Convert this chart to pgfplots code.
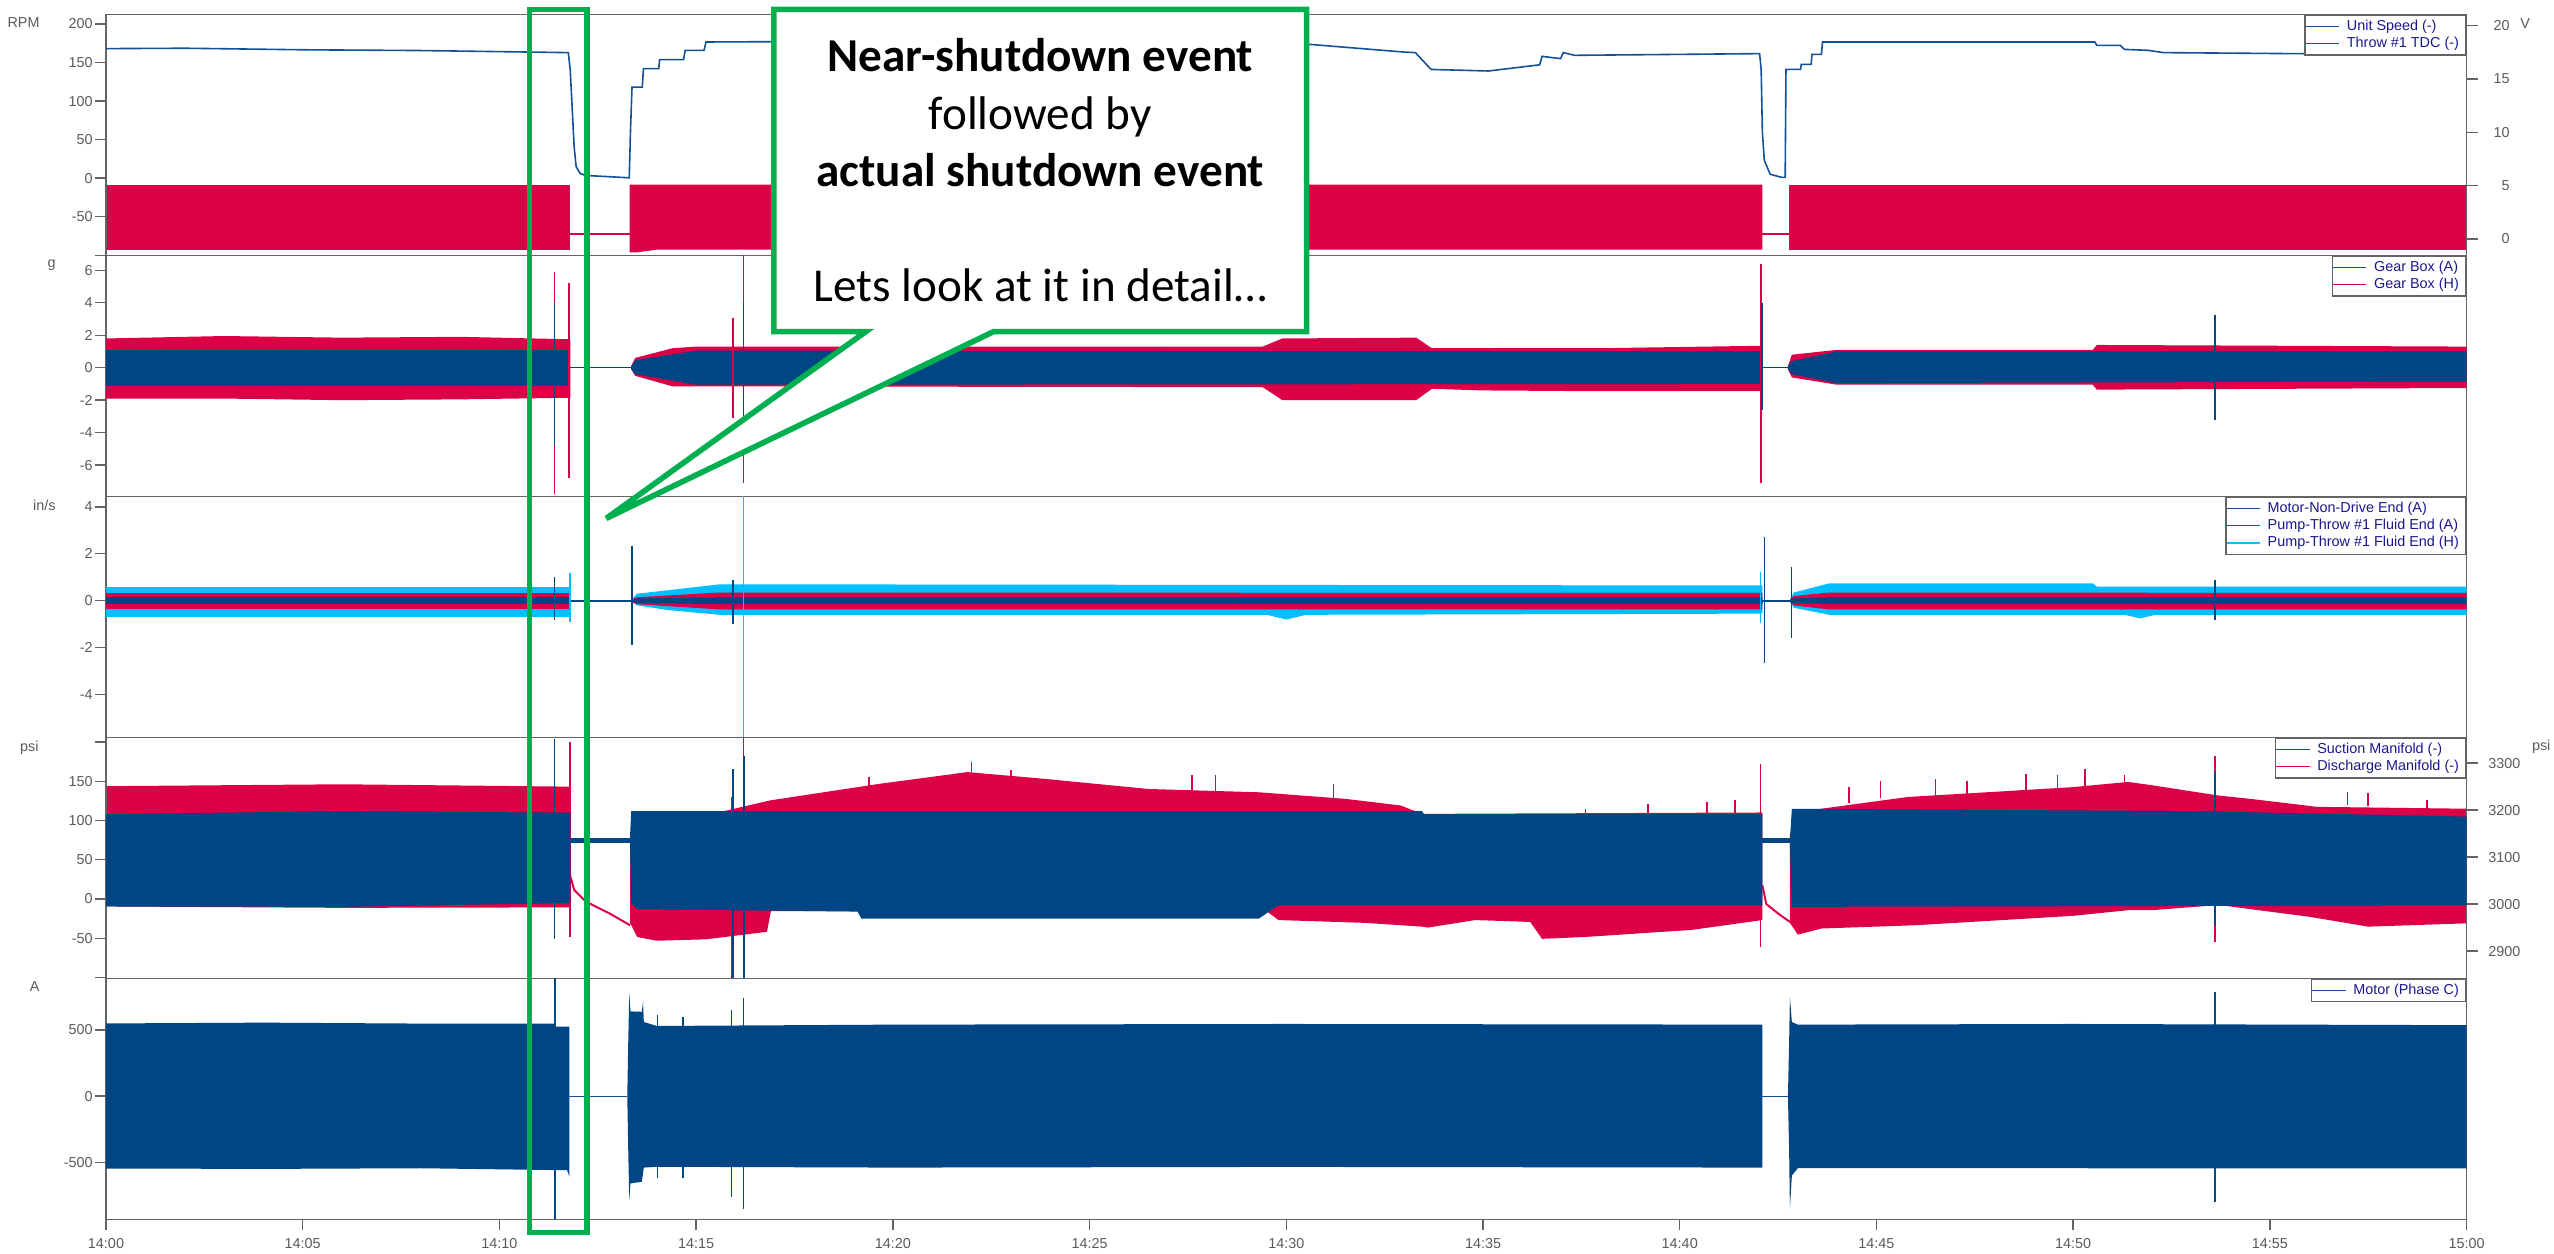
\documentclass[border=0pt]{standalone}
\usepackage{fontspec}
\setmainfont{Liberation Sans}
\newfontfamily\calibri{Carlito}
\usepackage{pgfplots}
\pgfplotsset{compat=1.18}

\definecolor{sigblue}{RGB}{0,69,132}
\definecolor{sigred}{RGB}{220,0,70}
\definecolor{sigcyan}{RGB}{0,191,255}
\definecolor{speedblue}{RGB}{20,80,150}
\definecolor{axgray}{RGB}{100,100,100}
\definecolor{txtgray}{RGB}{90,90,90}
\definecolor{legtxt}{RGB}{25,25,140}
\definecolor{calloutgreen}{RGB}{0,176,80}

\newcommand{\tfont}{\fontsize{7.2}{8.6}\selectfont}
\newcommand{\cfont}{\calibri\fontsize{23.6}{28.7}\selectfont}

\pgfplotsset{
  panel/.style={scale only axis, width=1180.3pt, height=120.5pt, xmin=0, xmax=60,
    axis line style={axgray, line width=0.7pt},
    every tick/.style={axgray, line width=0.7pt},
    major tick length=5.5pt, tick align=outside,
    xtick=\empty, ytick pos=left,
    ticklabel style={font=\tfont, text=txtgray},
    yticklabel style={anchor=east, inner sep=0pt},
    yticklabel shift=1pt,
    unbounded coords=jump,
    legend style={at={(1,1)}, anchor=north east, draw=axgray, line width=0.7pt, fill=white,
      inner xsep=0pt, inner ysep=1.3pt, row sep=0pt,
      nodes={font=\tfont, text=legtxt, inner xsep=3.5pt, inner ysep=1pt}},
    legend cell align=left,
    legend image code/.code={\draw[##1, line width=0.7pt] (0pt,0pt) -- (16.7pt,0pt);},
  },
  rpanel/.style={panel, axis x line=none, axis y line*=right, ytick pos=right,
    yticklabel style={anchor=west, inner sep=0pt, align=right}},
  band/.style={fill=#1, draw=none, forget plot},
  spike/.style={#1, line width=0.8pt, forget plot},
}

\begin{document}
\begin{tikzpicture}
\path[use as bounding box] (0,0) rectangle (1277pt,-626.5pt);

% ---------------- Panel 1: RPM / V ----------------
\begin{axis}[rpanel, at={(53pt,-7.15pt)}, anchor=north west,
  ymin=-1.53, ymax=21.06, ytick={0,5,10,15,20}, yticklabels={0,5,10,15,20},
  yticklabel style={text width=8.2pt}, yticklabel shift=7.6pt]
\addplot[band=sigred] coordinates {(0,5.1) (11.8,5.1) (11.8,-1.0) (0,-1.0)};
\addplot[band=sigred] coordinates {(13.31,5.1) (42.1,5.1) (42.1,-1.0) (14,-1.0) (13.5,-1.25) (13.31,-1.25)};
\addplot[band=sigred] coordinates {(42.77,5.1) (60,5.1) (60,-1.0) (42.77,-1.0)};
\addplot[sigred, line width=1pt, forget plot] coordinates {(11.8,0.5) (13.31,0.5) (13.31,nan) (42.1,0.5) (42.77,0.5)};
\end{axis}
\begin{axis}[panel, at={(53pt,-7.15pt)}, anchor=north west,
  ymin=-100, ymax=212.5, ytick={-100,-50,0,50,100,150,200}, yticklabels={,-50,0,50,100,150,200}]
\addlegendimage{speedblue}\addlegendentry{Unit Speed (-)}
\addlegendimage{sigred}\addlegendentry{Throw \#1 TDC (-)}
\addplot[speedblue, line width=0.8pt, forget plot] coordinates {
(0,168) (2,168.5) (5,166.5) (8,165.5) (10.7,163.6) (11.75,162.8) (11.8,140) (11.85,90) (11.9,40) (11.95,15)
(12.05,6) (12.2,3.5) (13.3,0.5) (13.33,60) (13.37,118) (13.63,118) (13.66,142) (14.05,142) (14.07,153.7)
(14.68,153.7) (14.72,165.8) (15.2,165.8) (15.25,176.6) (17,177) (22,178) (29.5,176) (30.36,174.5) (33,163.5)
(33.28,162.8) (33.68,141) (35.14,139) (36.44,147) (36.5,158) (36.97,155) (37.04,162.8) (37.33,159.3)
(42.03,161.5) (42.07,140) (42.1,60) (42.15,23) (42.3,5) (42.6,1) (42.68,1) (42.7,141) (43.07,141) (43.09,147.6)
(43.34,147.6) (43.36,160.6) (43.6,160.6) (43.63,176.6) (50.55,176.6) (50.6,172.3) (51.2,172.3) (51.3,167)
(51.9,165.8) (52.3,162.8) (55.6,161.5) (60,160)};
\end{axis}

% ---------------- Panel 2: g ----------------
\begin{axis}[panel, at={(53pt,-127.65pt)}, anchor=north west,
  ymin=-7.92, ymax=6.92, ytick={-6,-4,-2,0,2,4,6}, yticklabels={-6,-4,-2,0,2,4,6}]
\addlegendimage{speedblue}\addlegendentry{Gear Box (A)}
\addlegendimage{sigred}\addlegendentry{Gear Box (H)}
\addplot[band=sigred] coordinates {(0,1.8) (3,1.95) (6,1.85) (9,1.9) (11.8,1.75) (11.8,-1.85) (9,-1.95) (6,-2.0) (3,-1.9) (0,-1.9)};
\addplot[band=sigred] coordinates {(13.35,0.1) (13.45,0.6) (14.4,1.2) (15,1.3) (29.4,1.3) (29.9,1.8) (33.3,1.85) (33.7,1.2) (38,1.2) (42.07,1.35)
 (42.07,-1.45) (38,-1.45) (35,-1.4) (33.7,-1.3) (33.3,-2.0) (29.9,-2.0) (29.4,-1.2) (15,-1.15) (14.4,-1.15) (13.45,-0.5) (13.35,-0.1)};
\addplot[band=sigred] coordinates {(42.75,0.1) (42.85,0.8) (44,1.1) (50.5,1.1) (50.6,1.4) (60,1.3) (60,-1.25) (50.6,-1.35) (50.5,-1.05) (44,-1.05) (42.85,-0.6) (42.75,-0.1)};
\addplot[band=sigblue] coordinates {(0,1.1) (11.8,1.1) (11.8,-1.15) (0,-1.15)};
\addplot[band=sigblue] coordinates {(13.35,0.1) (13.45,0.45) (15,1.05) (42.07,1.0) (42.07,-1.0) (15,-1.05) (13.45,-0.4) (13.35,-0.1)};
\addplot[band=sigblue] coordinates {(42.75,0.1) (42.85,0.4) (44,1.0) (60,1.0) (60,-0.85) (44,-0.95) (42.85,-0.4) (42.75,-0.1)};
\addplot[sigblue, line width=0.8pt, forget plot] coordinates {(11.8,0) (13.35,0) (13.35,nan) (42.07,0) (42.75,0)};
\addplot[spike=sigred] coordinates {(11.4,5.9) (11.4,-7.8) (11.4,nan) (11.77,5.2) (11.77,-6.8) (11.77,nan) (15.93,3.05) (15.93,-3.1) (15.93,nan)
 (16.2,6.92) (16.2,-7.1) (16.2,nan) (42.07,6.4) (42.07,-7.1)};
\addplot[spike=sigblue] coordinates {(11.4,4.07) (11.4,-4.8) (11.4,nan) (16.2,4.0) (16.2,-3.0) (16.2,nan) (42.09,4.0) (42.09,-2.6) (42.09,nan) (53.6,3.25) (53.6,-3.2)};
\end{axis}

% ---------------- Panel 3: in/s ----------------
\begin{axis}[panel, at={(53pt,-248.15pt)}, anchor=north west,
  ymin=-5.82, ymax=4.45, ytick={-4,-2,0,2,4}, yticklabels={-4,-2,0,2,4}]
\addlegendimage{speedblue}\addlegendentry{Motor-Non-Drive End (A)}
\addlegendimage{sigred}\addlegendentry{Pump-Throw \#1 Fluid End (A)}
\addlegendimage{sigcyan}\addlegendentry{Pump-Throw \#1 Fluid End (H)}
\addplot[band=sigcyan] coordinates {(0,0.6) (11.8,0.6) (11.8,-0.7) (0,-0.7)};
\addplot[band=sigcyan] coordinates {(13.35,0.05) (13.5,0.3) (14.3,0.45) (15.6,0.7) (42.1,0.65) (42.1,-0.55) (30.5,-0.6) (30,-0.8) (29.5,-0.6) (15.6,-0.6) (14.3,-0.4) (13.5,-0.2) (13.35,-0.05)};
\addplot[band=sigcyan] coordinates {(42.8,0.05) (42.9,0.35) (43.8,0.74) (50.5,0.74) (50.6,0.6) (60,0.6) (60,-0.6) (52.1,-0.6) (51.7,-0.75) (51.3,-0.6) (43.8,-0.6) (42.9,-0.3) (42.8,-0.05)};
\addplot[band=sigred] coordinates {(0,0.32) (11.8,0.32) (11.8,-0.36) (0,-0.36)};
\addplot[band=sigred] coordinates {(13.35,0.03) (13.5,0.15) (15.6,0.35) (42.1,0.33) (42.1,-0.37) (15.6,-0.37) (13.5,-0.15) (13.35,-0.03)};
\addplot[band=sigred] coordinates {(42.8,0.03) (42.9,0.2) (43.8,0.35) (60,0.33) (60,-0.37) (43.8,-0.37) (42.9,-0.2) (42.8,-0.03)};
\addplot[band=sigblue] coordinates {(0,0.14) (11.8,0.14) (11.8,-0.14) (0,-0.14)};
\addplot[band=sigblue] coordinates {(13.35,0.02) (13.5,0.1) (15.6,0.14) (42.1,0.14) (42.1,-0.14) (15.6,-0.14) (13.5,-0.1) (13.35,-0.02)};
\addplot[band=sigblue] coordinates {(42.8,0.02) (42.9,0.1) (43.8,0.14) (60,0.14) (60,-0.14) (43.8,-0.14) (42.9,-0.1) (42.8,-0.02)};
\addplot[sigblue, line width=0.8pt, forget plot] coordinates {(11.8,0) (13.35,0) (13.35,nan) (42.1,0) (42.8,0)};
\addplot[spike=sigcyan] coordinates {(16.2,4.45) (16.2,-5.82) (16.2,nan) (42.05,1.24) (42.05,-0.97) (42.05,nan) (11.8,1.2) (11.8,-0.9)};
\addplot[spike=sigblue] coordinates {(11.4,1.0) (11.4,-0.8) (11.4,nan) (13.37,2.35) (13.37,-1.9) (13.37,nan) (15.93,0.9) (15.93,-1.0) (15.93,nan)
 (42.15,2.73) (42.15,-2.67) (42.15,nan) (42.84,1.45) (42.84,-1.6) (42.84,nan) (53.6,0.9) (53.6,-0.8)};
\end{axis}

% ---------------- Panel 4: psi / psi ----------------
\begin{axis}[rpanel, at={(53pt,-368.65pt)}, anchor=north west,
  ymin=2842, ymax=3355, ytick={2900,3000,3100,3200,3300}, yticklabels={2900,3000,3100,3200,3300},
  yticklabel style={text width=16.2pt}, yticklabel shift=5pt]
\addplot[band=sigred] coordinates {(0,3251) (6,3255) (11.8,3250) (11.8,2993) (6,2992) (0,2995)};
\addplot[band=sigred] coordinates {(13.32,3150) (13.5,3180) (15.25,3189) (16.9,3221) (19.66,3256) (21.9,3281) (23.8,3267) (26.5,3245) (29.3,3238)
 (31.5,3224) (32.9,3210) (33.45,3192) (42.1,3195)
 (42.1,2966) (40.3,2945) (37.6,2930) (36.5,2926) (36.2,2962) (34.8,2966) (33.6,2950) (33.45,2952) (32,2960) (29.8,2966) (29.5,2985)
 (16.9,2985) (16.8,2941) (15.25,2925) (14,2922) (13.5,2930) (13.32,2960)};
\addplot[band=sigred] coordinates {(42.8,3150) (43.2,3195) (43.6,3203) (45.8,3228) (50,3249) (51.4,3260) (52,3253) (53.7,3231) (54.5,3224) (56.2,3207) (60,3203)
 (60,2959) (57.5,2952) (56,2973) (53.7,2998) (52,2987) (51.4,2987) (50,2975) (46,2955) (43.6,2948) (43,2935) (42.8,2960)};
\addplot[sigred, line width=1pt, forget plot] coordinates {(11.8,3060) (11.9,3030) (12.2,3005) (12.8,2980) (13.32,2955) (13.32,nan) (42.1,3040) (42.2,3000) (42.5,2980) (42.8,2962)};
\addplot[spike=sigred] coordinates {(11.8,3344.6) (11.8,2930) (11.8,nan) (15.9,3228) (15.9,2842) (15.9,nan) (16.2,3355) (16.2,2842) (16.2,nan)
 (42.05,3298.6) (42.05,2909) (42.05,nan) (53.6,3316) (53.6,2920) (53.6,nan)
 (19.4,3250) (19.4,3270) (19.4,nan) (22,3275) (22,3302) (22,nan) (23,3265) (23,3285) (23,nan) (27.6,3240) (27.6,3274) (27.6,nan)
 (28.2,3238) (28.2,3274) (28.2,nan) (31.2,3224) (31.2,3256) (31.2,nan) (37.6,3190) (37.6,3203) (37.6,nan) (39.2,3190) (39.2,3212) (39.2,nan)
 (40.7,3190) (40.7,3217) (40.7,nan) (41.4,3190) (41.4,3221) (41.4,nan) (44.3,3215) (44.3,3249) (44.3,nan) (45.1,3225) (45.1,3263) (45.1,nan)
 (46.5,3230) (46.5,3267) (46.5,nan) (47.3,3235) (47.3,3263) (47.3,nan) (48.8,3240) (48.8,3277) (48.8,nan) (49.6,3245) (49.6,3274) (49.6,nan)
 (50.3,3248) (50.3,3288) (50.3,nan) (51.3,3255) (51.3,3275) (51.3,nan) (56.97,3210) (56.97,3238) (56.97,nan) (57.5,3208) (57.5,3236) (57.5,nan)
 (59,3204) (59,3222)};
\end{axis}
\begin{axis}[panel, at={(53pt,-368.65pt)}, anchor=north west,
  ymin=-101, ymax=206, ytick={-100,-50,0,50,100,150,200}, yticklabels={,-50,0,50,100,150,}]
\addlegendimage{speedblue}\addlegendentry{Suction Manifold (-)}
\addlegendimage{sigred}\addlegendentry{Discharge Manifold (-)}
\addplot[band=sigblue] coordinates {(0,108) (6,112) (11.8,110) (11.8,-5) (6,-10) (0,-9.5)};
\addplot[band=sigblue] coordinates {(13.32,80) (13.35,112) (19.1,112) (33.45,112) (33.5,108) (42.1,108) (42.1,-8) (29.8,-8) (29.3,-25) (19.2,-25) (19.1,-16) (13.5,-13) (13.35,-5) (13.32,70)};
\addplot[band=sigblue] coordinates {(42.8,75) (42.85,115) (53,112) (60,105) (60,-8) (42.85,-10) (42.8,70)};
\addplot[sigblue, line width=2.7pt, forget plot] coordinates {(11.8,74.5) (13.32,74.5) (13.32,nan) (42.1,74.5) (42.8,74.5)};
\addplot[spike=sigblue] coordinates {(11.4,203.6) (11.4,-50.4) (11.4,nan) (15.94,165.5) (15.94,-101) (15.94,nan) (16.22,182.5) (16.22,-101) (16.22,nan) (53.6,161.3) (53.6,-33.4)};
\end{axis}

% ---------------- Panel 5: A ----------------
\begin{axis}[panel, at={(53pt,-489.15pt)}, anchor=north west,
  ymin=-931, ymax=890, ytick={-500,0,500}, yticklabels={-500,0,500},
  xtick={0,5,...,60}, xticklabels={14:00,14:05,14:10,14:15,14:20,14:25,14:30,14:35,14:40,14:45,14:50,14:55,15:00},
  xtick pos=bottom, xticklabel style={anchor=north, inner sep=0pt}, xticklabel shift=4pt]
\addlegendimage{speedblue}\addlegendentry{Motor (Phase C)}
\addplot[band=sigblue] coordinates {(0,549) (4,555) (8,548) (11.4,548) (11.42,525) (11.78,525) (11.78,-610) (11.72,-560) (8,-545) (4,-550) (0,-547)};
\addplot[band=sigblue] coordinates {(13.25,0) (13.27,350) (13.3,776) (13.33,640) (13.62,637) (13.65,713) (13.67,560) (14,530) (20,540) (30,545) (42.1,540)
 (42.1,-540) (30,-535) (20,-540) (14,-534) (13.67,-540) (13.62,-647) (13.33,-660) (13.3,-786) (13.27,-350) (13.25,0)};
\addplot[band=sigblue] coordinates {(42.75,0) (42.78,400) (42.8,750) (42.85,560) (43,540) (50,545) (60,536) (60,-546) (50,-545) (43,-545) (42.85,-600) (42.8,-850) (42.78,-400) (42.75,0)};
\addplot[speedblue, line width=0.6pt, forget plot] coordinates {(11.78,0) (13.25,0) (13.25,nan) (42.1,0) (42.75,0)};
\addplot[spike=sigblue] coordinates {(11.41,890) (11.41,-931) (11.41,nan) (14.02,612) (14.02,-622) (14.02,nan) (14.67,600) (14.67,-622) (14.67,nan)
 (15.9,650) (15.9,-765) (15.9,nan) (16.2,745) (16.2,-852) (16.2,nan) (53.6,788) (53.6,-798)};
\end{axis}

% unit labels
\begin{scope}[every node/.style={font=\tfont, text=txtgray, inner sep=0pt}]
\node[anchor=east] at (20pt,-11.5pt) {RPM};
\node[anchor=east] at (28pt,-132.75pt) {g};
\node[anchor=east] at (28pt,-252.5pt) {in/s};
\node[anchor=east] at (19.5pt,-373.75pt) {psi};
\node[anchor=east] at (20pt,-493.3pt) {A};
\node[anchor=west] at (1260pt,-11.7pt) {V};
\node[anchor=west] at (1265.8pt,-373.3pt) {psi};
\end{scope}

% highlight box
\draw[calloutgreen, line width=2.8pt] (264.8pt,-4.67pt) rectangle (293.5pt,-616.3pt);

% callout
\draw[calloutgreen, line width=2.8pt, fill=white, line join=miter]
 (386.9pt,-4.67pt) -- (653.3pt,-4.67pt) -- (653.3pt,-165.8pt) -- (496.8pt,-165.8pt) -- (303.1pt,-259.2pt)
 -- (432.9pt,-165.8pt) -- (386.9pt,-165.8pt) -- cycle;
\node[anchor=base, font=\cfont\bfseries] at (520.1pt,-35.9pt) {Near-shutdown event};
\node[anchor=base, font=\cfont] at (520.1pt,-64.6pt) {followed by};
\node[anchor=base, font=\cfont\bfseries] at (520.1pt,-93.3pt) {actual shutdown event};
\node[anchor=base, font=\cfont] at (520.1pt,-150.7pt) {Lets look at it in detail…};
\end{tikzpicture}
\end{document}
